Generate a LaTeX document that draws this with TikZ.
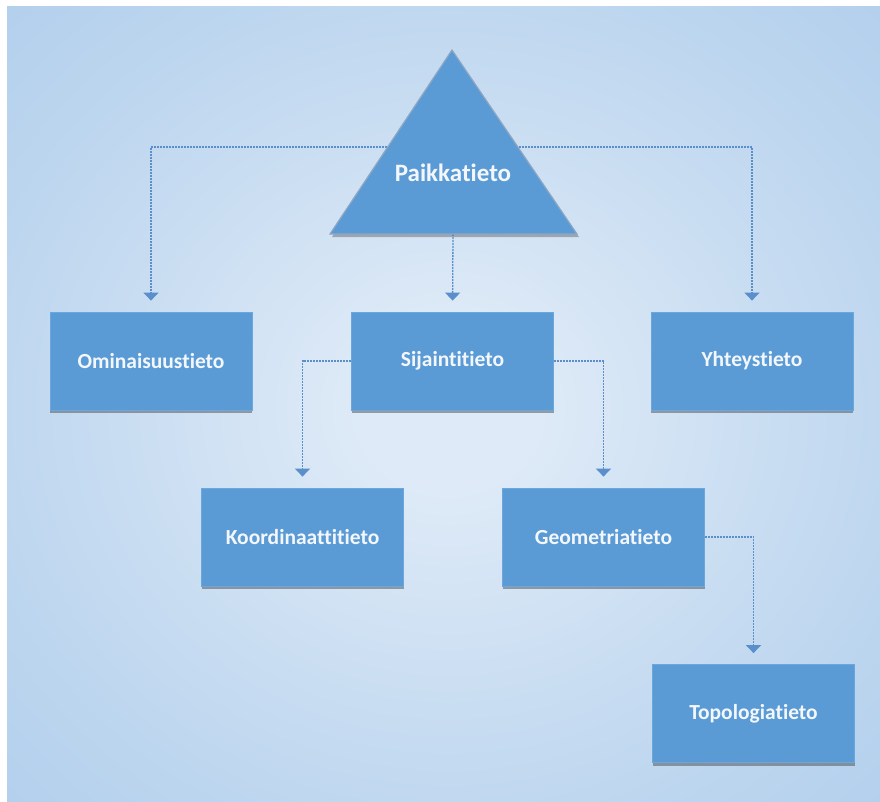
\documentclass[tikz,border=0pt]{standalone}
\usepackage{fontspec}
\setmainfont{Carlito}[Ligatures={NoCommon}]
\usetikzlibrary{arrows.meta,shadows}

\definecolor{bgouter}{HTML}{A8C9EA}
\definecolor{bgmid}{HTML}{C2D9F0}
\definecolor{bginner}{HTML}{DEEAF7}
\definecolor{boxfill}{HTML}{5B9BD5}
\definecolor{boxedge}{HTML}{6BA7DD}
\definecolor{triedge}{HTML}{8EA7C2}
\definecolor{linkcol}{HTML}{5A8FCC}
\definecolor{labelcol}{HTML}{F3F7FC}

% soft glow behind the chart
\pgfdeclareradialshading{glow}{\pgfpoint{0bp}{0bp}}{%
  color(0bp)=(bginner); color(5bp)=(bginner); color(23bp)=(bgmid);
  color(44bp)=(bgouter); color(75bp)=(bgouter)}

\pgfdeclarelayer{bg}
\pgfdeclarelayer{links}
\pgfsetlayers{bg,links,main}

\tikzset{
  infobox/.style={rectangle, fill=boxfill, draw=boxedge, line width=0.8pt,
    minimum width=202pt, minimum height=98pt, text=labelcol,
    font=\bfseries\fontsize{21.5}{25}\selectfont,
    drop shadow={shadow xshift=0pt, shadow yshift=-3pt, opacity=.5, fill=black!70}},
  titletext/.style={text=labelcol, font=\bfseries\fontsize{25}{29}\selectfont},
  link/.style={draw=linkcol, line width=1.3pt, dash pattern=on 2pt off 1pt,
    -{Triangle[width=15pt,length=8pt]}, shorten >=11pt},
}

\begin{document}
\begin{tikzpicture}[x=1pt,y=-1pt]
  \useasboundingbox (0,0) rectangle (880,801);

  \begin{pgfonlayer}{bg}
    \fill[white] (0,0) rectangle (880,801);
    \shade[shading=glow] (7,6) rectangle (890,811);
  \end{pgfonlayer}

  % root triangle
  \fill[black!70, opacity=.4] (452,53) -- (579,237) -- (332,237) -- cycle;
  \filldraw[fill=boxfill, draw=triedge, line width=1.2pt]
    (452,50) -- (577,234) -- (330,234) -- cycle;
  \node[titletext] (paik) at (453,173) {Paikkatieto};
  \coordinate (paikside) at (453,147);
  \coordinate (paikbase) at (453,234);

  % boxes
  \node[infobox] (omin) at (151,361) {Ominaisuustieto};
  \node[infobox] (sija) at (452.5,361) {Sijaintitieto};
  \node[infobox] (yht)  at (752,361) {Yhteystieto};
  \node[infobox] (koord) at (302.5,537) {Koordinaattitieto};
  \node[infobox] (geom) at (603.5,537) {Geometriatieto};
  \node[infobox] (topo) at (753.5,713.5) {Topologiatieto};

  % connectors
  \begin{pgfonlayer}{links}
    \draw[link] (paikside) -| (omin.north);
    \draw[link] (paikside) -| (yht.north);
    \draw[link] (paikbase) -- (sija.north);
    \draw[link] (sija.west) -| (koord.north);
    \draw[link] (sija.east) -| (geom.north);
    \draw[link] (geom.east) -| (topo.north);
  \end{pgfonlayer}
\end{tikzpicture}
\end{document}
